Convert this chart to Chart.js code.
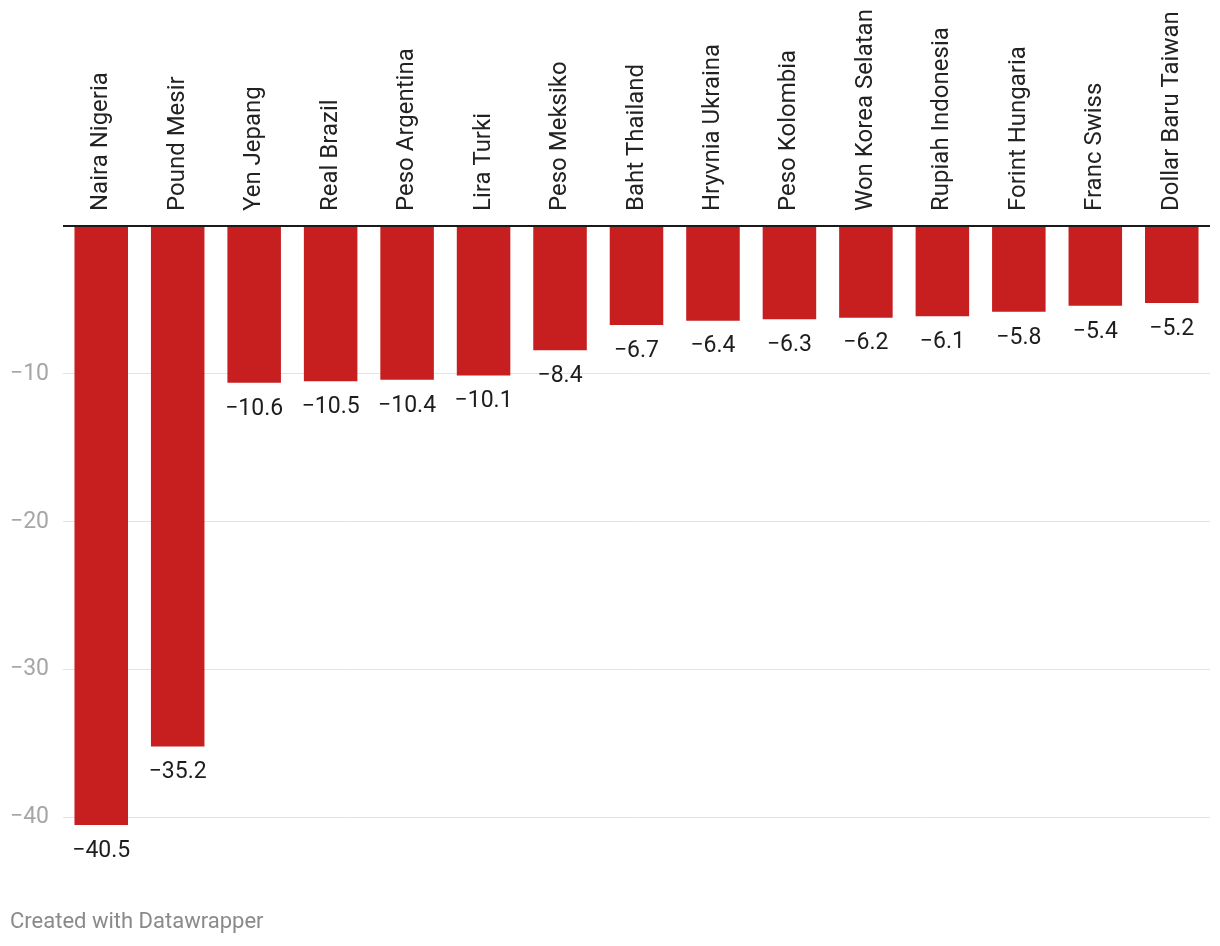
<!DOCTYPE html>
<html>
<head>
<meta charset="utf-8">
<script src="https://cdn.jsdelivr.net/npm/chart.js@4"></script>
<style>
  html, body { margin: 0; padding: 0; background: #fff; }
  #wrap { position: relative; width: 1220px; height: 946px; }
  #footer { position: absolute; left: 10px; top: 908px; font-family: Roboto, sans-serif; font-size: 22px; color: #8a8a8a; }
</style>
</head>
<body>
<div id="wrap">
  <canvas id="c" width="1220" height="946"></canvas>
  <div id="footer">Created with Datawrapper</div>
</div>
<script>
const categories = ["Naira Nigeria","Pound Mesir","Yen Jepang","Real Brazil","Peso Argentina","Lira Turki","Peso Meksiko","Baht Thailand","Hryvnia Ukraina","Peso Kolombia","Won Korea Selatan","Rupiah Indonesia","Forint Hungaria","Franc Swiss","Dollar Baru Taiwan"];
const values = [-40.5,-35.2,-10.6,-10.5,-10.4,-10.1,-8.4,-6.7,-6.4,-6.3,-6.2,-6.1,-5.8,-5.4,-5.2];
const yTicks = [-40,-30,-20,-10,0];

const fmt = v => (v < 0 ? "\u2212" : "") + Math.abs(v).toString();

const labelsPlugin = {
  id: 'labelsPlugin',
  afterDatasetsDraw(chart) {
    const ctx = chart.ctx;
    const meta = chart.getDatasetMeta(0);
    const top = chart.chartArea.top;
    ctx.save();
    ctx.font = '23px Roboto';
    ctx.fillStyle = '#1d1d1d';
    ctx.textAlign = 'center';
    ctx.textBaseline = 'middle';
    meta.data.forEach((bar, i) => {
      ctx.fillText(fmt(values[i]), bar.x, bar.y + 26);
    });
    ctx.font = '24px Roboto';
    ctx.fillStyle = '#222';
    ctx.textAlign = 'left';
    ctx.textBaseline = 'middle';
    meta.data.forEach((bar, i) => {
      ctx.save();
      ctx.translate(bar.x, top - 15);
      ctx.rotate(-Math.PI / 2);
      ctx.fillText(categories[i], 0, 0);
      ctx.restore();
    });
    ctx.restore();
  }
};

new Chart(document.getElementById('c'), {
  type: 'bar',
  data: {
    labels: categories,
    datasets: [{
      data: values,
      backgroundColor: '#c71e1f',
      barPercentage: 0.7,
      categoryPercentage: 1.0
    }]
  },
  options: {
    responsive: false,
    animation: false,
    devicePixelRatio: 1,
    layout: { padding: { left: 10, right: 10, top: 0, bottom: 121 } },
    plugins: { legend: { display: false }, tooltip: { enabled: false } },
    scales: {
      x: {
        position: 'top',
        grid: { display: false, drawTicks: false },
        border: { display: false },
        ticks: { display: false },
        afterFit(scale) { scale.height = 226; }
      },
      y: {
        min: -40.5, max: 0,
        afterBuildTicks(scale) { scale.ticks = yTicks.map(v => ({ value: v })); },
        afterFit(scale) { scale.width = 53; },
        border: { display: false },
        grid: {
          drawTicks: false,
          tickLength: 0,
          color: ctx => ctx.tick && ctx.tick.value === 0 ? '#1a1a1a' : '#e3e3e3',
          lineWidth: ctx => ctx.tick && ctx.tick.value === 0 ? 2 : 1
        },
        ticks: {
          crossAlign: 'far',
          padding: 0,
          color: '#a6a6a6',
          font: { family: 'Roboto', size: 23 },
          callback: v => v === 0 ? '' : fmt(v)
        }
      }
    }
  },
  plugins: [labelsPlugin]
});
</script>
</body>
</html>
